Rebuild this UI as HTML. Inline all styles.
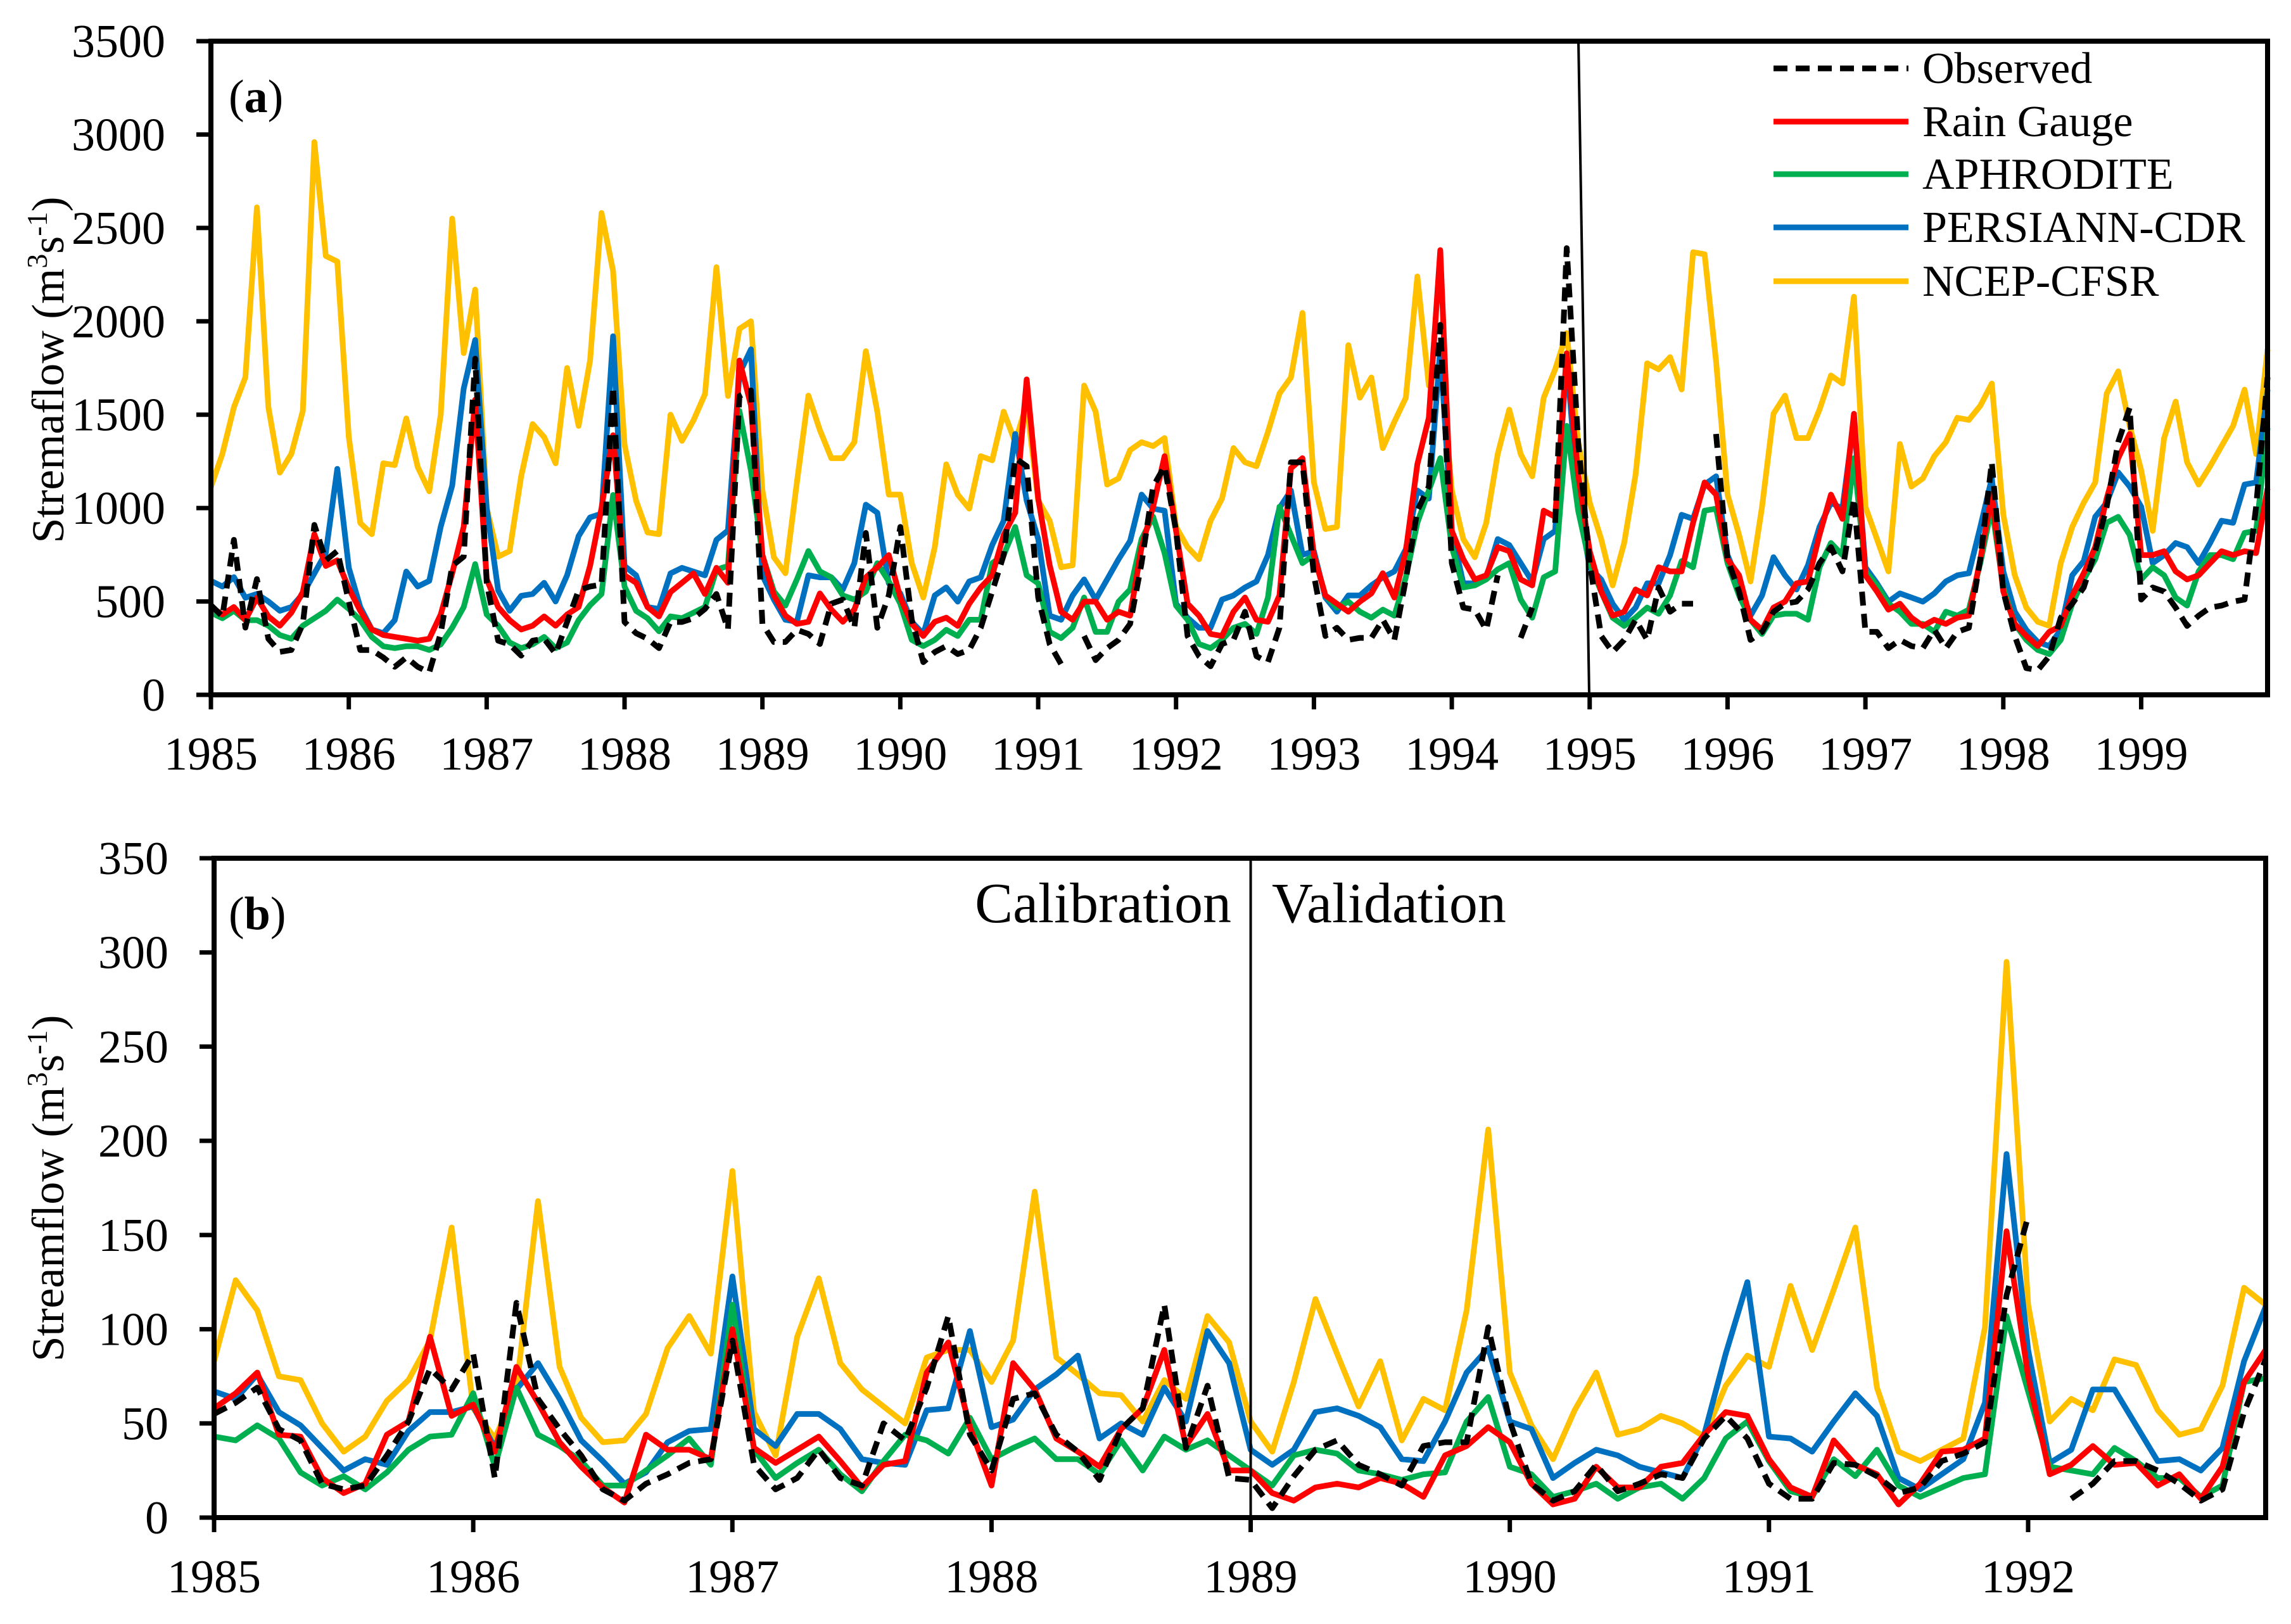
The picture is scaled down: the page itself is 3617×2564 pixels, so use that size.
<!DOCTYPE html>
<html><head><meta charset="utf-8"><style>
html,body{margin:0;padding:0;background:#fff;}
svg{display:block;}
text{font-family:"Liberation Serif",serif;fill:#000;}
</style></head><body>
<svg id="chart" width="3617" height="2564" viewBox="0 0 3617 2564" xmlns="http://www.w3.org/2000/svg">
<rect x="0" y="0" width="3617" height="2564" fill="#fff"/>
<g id="panelA"></g>
<g id="panelB"></g>
</svg>
<script>
// ---------- Panel (a) data: monthly 1985-1999 ----------
const aYears = [1985,1986,1987,1988,1989,1990,1991,1992,1993,1994,1995,1996,1997,1998,1999];
const aTicks = [0,500,1000,1500,2000,2500,3000,3500];
const aObserved = [480,420,830,360,620,300,230,240,380,910,720,770,
500,240,240,200,150,200,150,120,330,690,740,1800,
600,290,270,210,290,300,220,390,560,580,590,1650,
390,330,300,250,390,390,410,460,540,350,1600,1630,
380,283,283,348,326,272,488,510,359,867,359,532,
899,402,175,229,261,218,240,359,553,748,1267,1224,
521,272,164,null,315,186,250,294,380,705,1115,1224,
878,315,207,153,272,294,445,207,175,359,1245,1245,
640,315,359,294,305,305,402,294,618,986,1115,1981,
705,467,456,348,640,null,305,467,null,921,2392,1353,
705,315,229,294,402,294,575,445,488,488,null,1397,
726,553,294,337,445,488,499,564,705,791,661,1051,
337,337,250,294,261,250,348,250,337,359,726,1245,
553,315,143,132,207,413,488,575,769,1007,1353,1537,
510,575,553,467,369,424,467,478,499,510,1007,1700];
const aRainGauge = [470,430,470,400,520,420,370,440,550,860,690,720,
570,450,350,320,310,300,290,300,430,650,900,1580,
620,470,400,350,370,420,370,430,470,690,1000,1390,
640,600,470,420,550,600,650,540,680,600,1790,1550,
748,532,424,380,391,543,456,391,456,629,683,748,
521,380,315,391,413,369,488,575,640,856,975,1689,
1051,694,445,402,499,499,402,445,424,791,1007,1278,
878,488,424,326,315,445,521,402,391,532,1213,1267,
748,532,488,445,499,543,651,521,769,1235,1483,2381,
878,726,618,640,791,769,618,586,986,953,1829,1180,
769,553,424,445,564,532,683,661,661,921,1137,1072,
726,640,402,348,467,499,597,607,856,1072,942,1505,
640,553,456,488,413,369,402,380,413,424,726,1072,
553,380,315,261,337,369,532,651,791,1051,1267,1397,
748,748,769,661,618,640,705,769,748,769,759,1105];
const aAphrodite = [440,410,450,400,400,370,320,300,370,410,450,510,
460,400,310,260,250,260,260,240,270,360,470,700,
430,370,280,250,270,310,250,280,400,480,540,1070,
580,450,410,340,420,410,440,470,670,690,1520,1200,
748,553,478,618,770,661,629,532,510,553,705,607,
488,294,261,294,348,315,402,402,705,748,899,640,
597,337,304,359,521,337,337,499,564,834,954,759,
478,402,272,250,294,359,380,326,521,1007,856,705,
748,532,467,499,445,413,456,424,629,921,1094,1267,
791,575,586,618,672,705,510,413,629,661,1440,986,
705,553,413,369,413,467,434,532,716,683,986,997,
705,532,402,326,424,434,434,402,683,813,748,1267,
661,586,488,445,380,380,337,445,424,456,705,1007,
575,380,294,240,218,294,488,618,726,921,953,856,
618,683,640,521,478,661,748,748,726,867,878,1429];
const aPersiann = [610,580,630,520,540,500,450,470,540,650,760,1210,
680,470,350,330,400,660,580,610,900,1120,1640,1900,
1000,560,450,530,540,600,500,640,850,950,970,1920,
690,640,470,460,650,680,660,640,830,880,1720,1850,
640,510,402,391,640,629,629,564,705,1018,975,597,
543,391,326,532,575,499,607,629,802,932,1397,1040,
834,424,402,532,618,510,618,726,824,1072,997,986,
488,413,359,359,510,532,575,607,748,1000,1094,750,
769,521,445,532,532,586,629,661,780,1094,1051,1851,
878,597,597,629,834,802,705,607,834,878,1808,1029,
683,618,488,402,467,597,597,748,964,942,1126,1170,
748,597,424,532,737,640,564,694,899,1029,997,1472,
683,597,499,543,521,499,543,607,640,651,899,1159,
661,445,348,283,261,348,640,716,953,1029,1191,1115,
1007,705,748,813,791,705,813,932,921,1126,1137,1635];
const aNcep = [1113,1290,1540,1700,2610,1540,1190,1290,1520,2960,2350,2320,
1380,920,860,1240,1230,1480,1220,1090,1500,2550,1830,2170,
1000,740,770,1170,1450,1380,1240,1750,1440,1790,2580,2270,
1340,1040,870,860,1500,1360,1470,1610,2290,1600,1960,2000,
1094,737,651,1137,1602,1418,1267,1267,1353,1840,1516,1072,
1072,705,521,791,1234,1072,997,1278,1256,1516,1353,1559,
1040,932,683,694,1656,1516,1126,1159,1310,1353,1332,1375,
899,791,726,932,1051,1321,1245,1224,1407,1613,1699,2045,
1137,888,899,1872,1591,1699,1321,1462,1591,2240,1656,1786,
1094,834,737,921,1289,1527,1289,1170,1591,1743,1937,1353,
1029,834,586,813,1180,1775,1743,1808,1635,2370,2359,1786,
1072,856,607,1007,1505,1602,1375,1375,1527,1710,1667,2132,
1007,834,661,1343,1115,1159,1278,1353,1483,1472,1548,1667,
964,640,467,391,369,705,899,1029,1137,1613,1732,1440,
1202,878,1375,1570,1245,1126,1224,1332,1440,1634,1289,1851];

// ---------- Panel (b) data: monthly 1985-1992 ----------
const bYears = [1985,1986,1987,1988,1989,1990,1991,1992];
const bTicks = [0,50,100,150,200,250,300,350];
const bObserved = [55,61,69,47,41,18,15,17,33,51,79,68,
87,21,114,63,47,33,15,9,18,23,29,31,
94,28,15,21,36,21,17,50,41,69,107,44,
25,63,66,44,35,20,47,58,113,37,70,21,
20,5,22,36,41,28,23,17,38,40,40,101,
51,18,9,14,28,14,18,23,21,42,54,42,
18,10,10,29,28,22,13,16,30,34,40,118,
160,null,10,18,30,30,25,18,9,15,56,84];
const bRainGauge = [58,66,77,44,43,21,13,18,44,51,96,54,
60,35,80,61,40,27,16,8,44,36,36,31,
100,37,29,36,43,30,16,28,30,77,93,48,
17,82,68,42,35,27,47,58,89,38,55,25,
25,13,9,16,18,16,21,18,11,33,38,48,
40,18,7,10,27,16,16,27,29,44,56,54,
31,16,11,41,28,23,7,18,35,36,42,152,
75,23,28,38,28,29,17,23,10,27,72,89];
const bAphrodite = [43,41,49,42,24,17,22,15,24,36,43,44,
66,27,69,44,38,30,17,17,25,33,42,28,
113,36,21,29,36,23,14,30,44,41,34,53,
31,37,42,31,31,23,41,25,43,36,41,33,
25,17,33,36,34,25,23,20,23,24,51,64,
27,23,11,14,18,10,16,18,10,21,42,51,
30,14,11,31,22,36,17,11,16,21,23,107,
67,27,25,23,37,30,21,21,11,17,72,74];
const bPersiann = [67,63,76,56,49,37,25,31,28,46,56,56,
59,37,68,82,63,41,30,18,24,40,46,47,
128,47,38,55,55,47,31,29,28,57,58,99,
48,52,68,76,86,42,50,44,69,51,99,82,
36,28,36,56,58,54,48,31,30,51,77,90,
51,47,21,29,36,33,27,24,21,44,87,125,
43,42,35,51,66,54,21,15,23,31,61,193,
89,29,36,68,68,49,30,31,25,37,83,112];
const bNcep = [83,126,110,75,73,50,35,43,62,73,94,154,
58,42,68,168,80,53,40,41,55,90,107,87,
184,56,33,96,127,82,68,59,50,85,89,89,
72,94,173,85,76,66,65,51,73,63,107,93,
51,35,72,116,87,59,83,41,63,57,110,206,
77,49,31,57,77,44,47,54,50,43,70,86,
80,123,89,121,154,69,35,30,36,42,101,295,
113,51,63,57,84,81,57,44,47,70,122,113];

const NS = "http://www.w3.org/2000/svg";
function mk(tag, attrs, parent){
  const e = document.createElementNS(NS, tag);
  for (const k in attrs) e.setAttribute(k, attrs[k]);
  parent.appendChild(e);
  return e;
}
const COLORS = {obs:"#000000", rain:"#FF0000", aph:"#00B050", per:"#0070C0", ncep:"#FFC000"};

function drawPanel(g, cfg){
  const {x0,x1,yTop,yBot,vmax,years,ticks,series,nMonths,prefix} = cfg;
  const dx = (x1-x0)/(nMonths-1);
  const xs = m => x0 + m*dx;
  const ys = v => yBot - v/vmax*(yBot-yTop);
  series.forEach(s=>{
    let d = "", pen = false;
    s.values.forEach((v,i)=>{
      if (v===null || v===undefined){ pen=false; return; }
      d += (pen?"L":"M") + xs(i).toFixed(1) + " " + ys(v).toFixed(1) + " ";
      pen = true;
    });
    const p = mk("path",{d:d,fill:"none",stroke:s.color,"stroke-width":9,"stroke-linejoin":"round","stroke-linecap":"butt"},g);
    if (s.dash) p.setAttribute("stroke-dasharray","22 13");
    
    
  });
  const fr = mk("rect",{x:x0,y:yTop,width:x1-x0,height:yBot-yTop,fill:"none",stroke:"#000","stroke-width":8},g);
  
  
  ticks.forEach(t=>{
    const y = ys(t);
    const l = mk("line",{x1:x0-23,y1:y,x2:x0,y2:y,stroke:"#000","stroke-width":7},g);
    
    
    const tx = mk("text",{x:x0-72,y:y+25,"font-size":74,"text-anchor":"end"},g);
    tx.textContent = String(t);
    
    
  });
  years.forEach((yr,i)=>{
    const x = xs(i*12);
    const l = mk("line",{x1:x,y1:yBot,x2:x,y2:yBot+23,stroke:"#000","stroke-width":7},g);
    
    
    const tx = mk("text",{x:x,y:cfg.xLabelY,"font-size":74,"text-anchor":"middle"},g);
    tx.textContent = String(yr);
    
    
  });
  return {xs, ys};
}

const gA = document.getElementById("panelA");
const A = drawPanel(gA, {x0:333,x1:3580,yTop:65,yBot:1097,vmax:3500,years:aYears,ticks:aTicks,nMonths:180,xLabelY:1215,prefix:"panel-a",
  series:[
    {name:"ncep-cfsr",values:aNcep,color:COLORS.ncep},
    {name:"persiann-cdr",values:aPersiann,color:COLORS.per},
    {name:"aphrodite",values:aAphrodite,color:COLORS.aph},
    {name:"rain-gauge",values:aRainGauge,color:COLORS.rain},
    {name:"observed",values:aObserved,color:COLORS.obs,dash:true}
  ]});
const gB = document.getElementById("panelB");
const B = drawPanel(gB, {x0:338,x1:3577,yTop:1355,yBot:2396,vmax:350,years:bYears,ticks:bTicks,nMonths:96,xLabelY:2514,prefix:"panel-b",
  series:[
    {name:"ncep-cfsr",values:bNcep,color:COLORS.ncep},
    {name:"persiann-cdr",values:bPersiann,color:COLORS.per},
    {name:"aphrodite",values:bAphrodite,color:COLORS.aph},
    {name:"rain-gauge",values:bRainGauge,color:COLORS.rain},
    {name:"observed",values:bObserved,color:COLORS.obs,dash:true}
  ]});

const dA = mk("line",{x1:2492,y1:65,x2:2509,y2:1097,stroke:"#000","stroke-width":4},gA);


const dB = mk("line",{x1:B.xs(48),y1:1355,x2:B.xs(48),y2:2396,stroke:"#000","stroke-width":4},gB);



const legend = mk("g",{},gA);


const legNames = ["Observed","Rain Gauge","APHRODITE","PERSIANN-CDR","NCEP-CFSR"];
const legColors = [COLORS.obs,COLORS.rain,COLORS.aph,COLORS.per,COLORS.ncep];
const legY = [108,192,275,359,444];
legNames.forEach((n,i)=>{
  const l = mk("line",{x1:2800,y1:legY[i],x2:3013,y2:legY[i],stroke:legColors[i],"stroke-width":9},legend);
  if (i===0) l.setAttribute("stroke-dasharray","22 13");
  
  
  const t = mk("text",{x:3035,y:legY[i]+23,"font-size":70},legend);
  t.textContent = n;
  
  
});
</script>
<svg style="position:absolute;left:0;top:0" width="3617" height="2564" viewBox="0 0 3617 2564" xmlns="http://www.w3.org/2000/svg">
  <text x="361" y="177" font-size="74">(<tspan font-weight="bold">a</tspan>)</text>
  <text x="361" y="1467" font-size="74">(<tspan font-weight="bold">b</tspan>)</text>
  <text transform="translate(100,584) rotate(-90)" font-size="72" text-anchor="middle">Stremaflow (m<tspan font-size="46" dy="-26">3</tspan><tspan dy="26">s</tspan><tspan font-size="46" dy="-26">-1</tspan><tspan dy="26">)</tspan></text>
  <text transform="translate(100,1876) rotate(-90)" font-size="72" text-anchor="middle">Streamflow (m<tspan font-size="46" dy="-26">3</tspan><tspan dy="26">s</tspan><tspan font-size="46" dy="-26">-1</tspan><tspan dy="26">)</tspan></text>
  <text x="1944" y="1456" font-size="90" text-anchor="end">Calibration</text>
  <text x="2008" y="1456" font-size="90">Validation</text>
</svg>
</body></html>
